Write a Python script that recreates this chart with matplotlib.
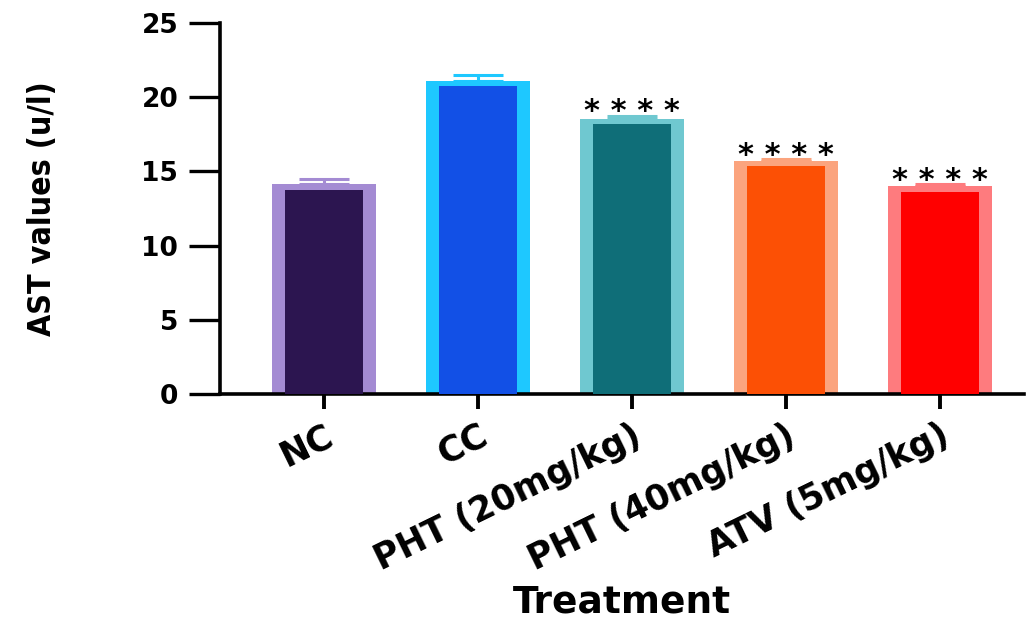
import numpy as np
import matplotlib
matplotlib.use("Agg")
import matplotlib.pyplot as plt

groups = ["NC", "CC", "PHT (20mg/kg)", "PHT (40mg/kg)", "ATV (5mg/kg)"]
ast_mean = [14.15, 21.08, 18.53, 15.72, 14.01]
ast_sem = [0.32, 0.40, 0.22, 0.11, 0.13]
stars = ["", "", "****", "****", "****"]

edge_colors = ["#a48bd3", "#1ec8ff", "#6fc8d0", "#fba47e", "#fe7b7e"]
fill_colors = ["#2c1550", "#1250e6", "#0f6e78", "#fc5005", "#ff0000"]


def main():
    fig = plt.figure(figsize=(10.35, 6.24), dpi=100)
    ax = fig.add_axes([0.2126, 0.368, 0.777, 0.5956])

    x = np.arange(len(groups))
    mean = np.array(ast_mean)

    # light outer bar, darker inner bar
    ax.bar(x, mean, width=0.675, color=edge_colors, zorder=2)
    ax.bar(x, mean - 0.37, width=0.506, color=fill_colors, zorder=3)

    for i in range(len(groups)):
        ax.errorbar(x[i], mean[i], yerr=[[0], [ast_sem[i]]], fmt="none",
                    ecolor=edge_colors[i], elinewidth=2.2, capsize=18,
                    capthick=2.2, zorder=1)
        if stars[i]:
            ax.annotate(" ".join(stars[i]), (x[i], mean[i] + ast_sem[i]),
                        xytext=(0, -3.5), textcoords="offset points",
                        ha="center", va="baseline", fontsize=22,
                        fontweight="bold", color="black")

    ax.set_xlim(-0.675, 4.55)
    ax.set_ylim(0, 25)
    ax.set_yticks([0, 5, 10, 15, 20, 25])

    for side in ["top", "right"]:
        ax.spines[side].set_visible(False)
    for side in ["left", "bottom"]:
        ax.spines[side].set_linewidth(2.6)

    ax.tick_params(axis="y", length=22, width=2.4, pad=8)
    ax.tick_params(axis="x", length=11, width=2.8, pad=6)

    ax.set_xticks(x)
    ax.set_xticklabels(groups, rotation=26, ha="right", rotation_mode="anchor",
                       fontsize=25, fontweight="bold")
    for lab in ax.get_yticklabels():
        lab.set_fontsize(19)
        lab.set_fontweight("bold")

    ax.set_ylabel("AST values (u/l)", fontsize=23, fontweight="bold",
                  family="DejaVu Sans", fontstretch="condensed", labelpad=60)
    ax.set_xlabel("Treatment", fontsize=27, fontweight="bold", labelpad=6)

    fig.savefig("out.png", dpi=100)


if __name__ == "__main__":
    main()
